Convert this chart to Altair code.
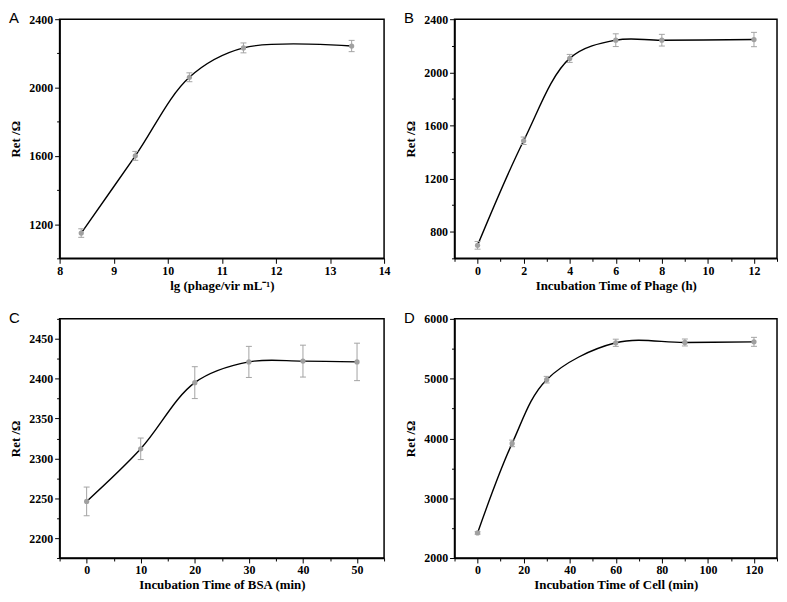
import altair as alt
import pandas as pd

# ---- data ----
a_x = [8.4, 9.4, 10.4, 11.4, 13.4]
a_y = [1148, 1600, 2060, 2232, 2243]
a_e = [25, 26, 26, 29, 33]

b_x = [0, 2, 4, 6, 8, 12]
b_y = [698, 1485, 2105, 2242, 2242, 2247]
b_e = [29, 28, 30, 48, 44, 54]

c_x = [0, 10, 20, 30, 40, 50]
c_y = [2246, 2312, 2395, 2421, 2422, 2421]
c_e = [18, 13.5, 20, 19.5, 20, 23.5]

d_x = [0, 15, 30, 60, 90, 120]
d_y = [2419, 3917, 4983, 5600, 5605, 5616]
d_e = [20, 55, 55, 60, 58, 75]

a_xticks = [8, 8.5, 9, 9.5, 10, 10.5, 11, 11.5, 12, 12.5, 13, 13.5, 14]
a_yticks = [1000, 1200, 1400, 1600, 1800, 2000, 2200, 2400]
b_xticks = [-1, 0, 1, 2, 3, 4, 5, 6, 7, 8, 9, 10, 11, 12, 13]
b_yticks = [600, 800, 1000, 1200, 1400, 1600, 1800, 2000, 2200, 2400]
c_xticks = [-5, 0, 5, 10, 15, 20, 25, 30, 35, 40, 45, 50, 55]
c_yticks = [2175, 2200, 2225, 2250, 2275, 2300, 2325, 2350, 2375, 2400, 2425, 2450, 2475]
d_xticks = [-10, 0, 10, 20, 30, 40, 50, 60, 70, 80, 90, 100, 110, 120, 130]
d_yticks = [2000, 2500, 3000, 3500, 4000, 4500, 5000, 5500, 6000]

Y_TITLE = "Ret /Ω"
SERIF = "Liberation Serif"


def make_axis(values, mod, title, is_y):
    return alt.Axis(
        values=values,
        title=title,
        format="d",
        labelExpr=f"datum.value % {mod} == 0 ? datum.label : ''",
        tickSize={"condition": {"test": f"datum.value % {mod} != 0", "value": 3}, "value": 5},
        labelFlush=False,
        labelOverlap=False,
        grid=False,
        titlePadding=6 if is_y else 3,
        labelPadding=2,
    )


def panel(xs, ys, es, xdom, ydom, xvals, xmod, yvals, ymod, xtitle, letter, w, h):
    df = pd.DataFrame({
        "x": xs,
        "y": ys,
        "lo": [y - e for y, e in zip(ys, es)],
        "hi": [y + e for y, e in zip(ys, es)],
    })
    xsc = alt.Scale(domain=xdom, nice=False, zero=False)
    ysc = alt.Scale(domain=ydom, nice=False, zero=False)
    xax = make_axis(xvals, xmod, xtitle, False)
    yax = make_axis(yvals, ymod, Y_TITLE, True)

    def X():
        return alt.X("x:Q", scale=xsc, axis=xax)

    def Y(f):
        return alt.Y(f"{f}:Q", scale=ysc, axis=yax)

    base = alt.Chart(df)
    grey = "#a3a3a3"
    line = base.mark_line(interpolate="catmull-rom", color="black", strokeWidth=1.4).encode(x=X(), y=Y("y"))
    rule = base.mark_rule(color=grey, strokeWidth=1).encode(x=X(), y=Y("lo"), y2="hi:Q")
    cap_lo = base.mark_tick(color=grey, size=6, thickness=1, orient="horizontal", opacity=1).encode(x=X(), y=Y("lo"))
    cap_hi = base.mark_tick(color=grey, size=6, thickness=1, orient="horizontal", opacity=1).encode(x=X(), y=Y("hi"))
    pts = base.mark_point(filled=True, size=28, color="#a0a0a0", opacity=1).encode(x=X(), y=Y("y"))
    return alt.layer(line, rule, cap_lo, cap_hi, pts).properties(
        width=w,
        height=h,
        title=alt.TitleParams(
            letter, anchor="start", frame="group", orient="top", offset=0, dx=-51, dy=25,
            baseline="alphabetic", font="Liberation Sans", fontSize=15, fontWeight="normal",
            color="black",
        ),
    )


pa = panel(a_x, a_y, a_e, [8, 14], [1000, 2400], a_xticks, 1, a_yticks, 400,
           "lg (phage/vir mL⁻¹)", "A", 327, 241)
pb = panel(b_x, b_y, b_e, [-1, 13], [600, 2400], b_xticks, 2, b_yticks, 400,
           "Incubation Time of Phage (h)", "B", 325, 241)
pc = panel(c_x, c_y, c_e, [-5, 55], [2175, 2475], c_xticks, 10, c_yticks, 50,
           "Incubation Time of BSA (min)", "C", 327, 241)
pd_ = panel(d_x, d_y, d_e, [-10, 130], [2000, 6000], d_xticks, 20, d_yticks, 1000,
            "Incubation Time of Cell (min)", "D", 325, 241)

chart = alt.concat(pa, pb, pc, pd_, columns=2, spacing={"row": 61, "column": 71}, bounds="flush").properties(
    padding=0, background="white"
).configure_view(
    stroke="black", strokeWidth=1.5
).configure_axis(
    domainColor="black", domainWidth=1.5, tickColor="black", tickWidth=1,
    labelFont=SERIF, labelFontWeight="bold", labelFontSize=12, labelColor="black",
    titleFont=SERIF, titleFontWeight="bold", titleFontSize=13, titleColor="black",
)

chart.save("out.html", embed_options={"renderer": "svg", "actions": False})
